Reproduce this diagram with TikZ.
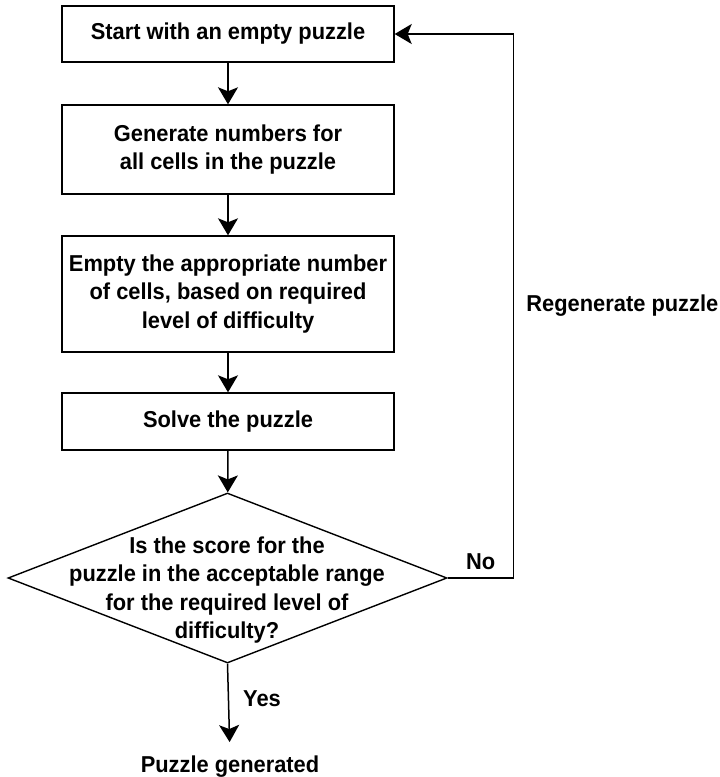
\documentclass[tikz,border=0pt]{standalone}
\usepackage{fontspec}
\setmainfont{Liberation Sans}[FakeStretch=0.95]
\usepackage{tikz}
\usetikzlibrary{arrows.meta,positioning,shapes.geometric,calc}
\newcommand{\flowfont}{\fontsize{23}{28.5}\selectfont\bfseries}
\tikzset{
  box/.style={draw, rectangle, align=center, font=\flowfont, minimum width=332pt, inner sep=0pt, line width=1.4pt},
  decision/.style={draw, diamond, aspect=2.58, minimum width=439pt, minimum height=170pt, inner sep=0pt, line width=1.4pt},
  txt/.style={align=center, font=\flowfont, inner sep=0pt},
  arr/.style={-{Stealth[length=17pt,width=20pt,inset=4pt]}, line width=1.5pt}
}

\begin{document}
\begin{tikzpicture}[x=1pt,y=-1pt]
\useasboundingbox (0,0) rectangle (720,777);
\node[box,minimum height=56pt] (start) at (228,34) {Start with an empty puzzle};
\node[box,minimum height=89pt] (numbers) at (228,149.5) {Generate numbers for\\all cells in the puzzle};
\node[box,minimum height=116pt] (empty) at (228,294) {Empty the appropriate number\\of cells, based on required\\level of difficulty};
\node[box,minimum height=57pt] (solve) at (228,421.5) {Solve the puzzle};
\node[decision] (check) at (227.5,578) {};
\node[txt] (checktext) at (227,590) {Is the score for the\\puzzle in the acceptable range\\for the required level of\\difficulty?};
\node[txt] (done) at (230,767) {Puzzle generated};

\draw[arr] (start) -- (numbers);
\draw[arr] (numbers) -- (empty);
\draw[arr] (empty) -- (solve);
\draw[arr] (solve) -- (check);
\draw[arr,shorten >=14pt] (check.south) -- (done.north);
\node[txt] (yes) at (262,699) {Yes};
\draw[arr] (check.east) -- ++(66,0) node[txt,midway,above=8pt] (no) {No}
  |- (start.east) node[txt,pos=0.25,right=12pt] (regen) {Regenerate puzzle};
\end{tikzpicture}
\end{document}
